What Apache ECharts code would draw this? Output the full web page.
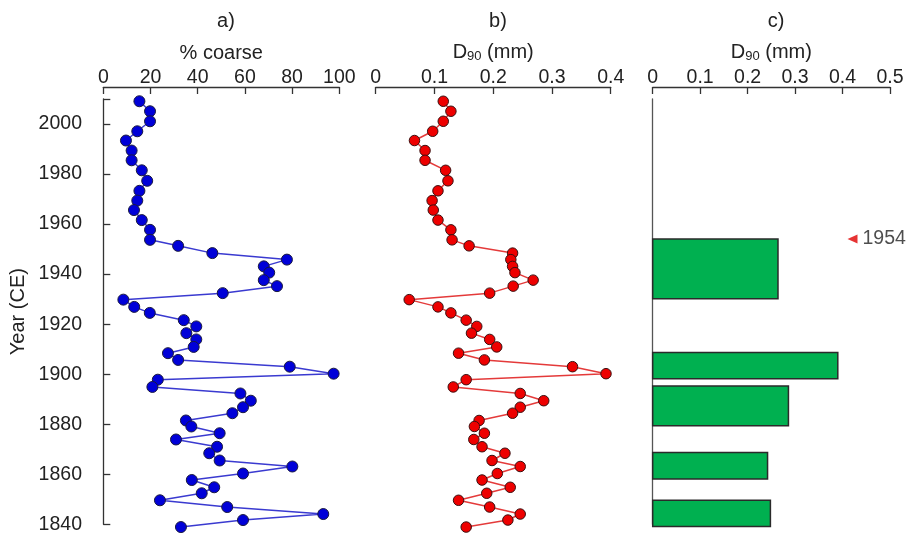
<!DOCTYPE html>
<html>
<head>
<meta charset="utf-8">
<script src="https://cdn.jsdelivr.net/npm/echarts@6/dist/echarts.min.js"></script>
<style>
  html, body { margin: 0; padding: 0; background: #fff; }
  #chart { width: 910px; height: 536px; }
</style>
</head>
<body>
<div id="chart"></div>
<script>
// sample years (CE), shared by panels a and b
const years = [2009.1, 2005.1, 2001.1, 1997.1, 1993.4, 1989.4, 1985.5, 1981.5, 1977.3, 1973.3,
  1969.4, 1965.6, 1961.6, 1957.7, 1953.7, 1951.3, 1948.4, 1945.8, 1943.1, 1940.6,
  1937.6, 1935.2, 1932.4, 1929.8, 1926.9, 1924.5, 1921.6, 1919.1, 1916.4, 1913.9,
  1910.9, 1908.4, 1905.7, 1903.0, 1900.2, 1897.8, 1894.9, 1892.3, 1889.4, 1886.8,
  1884.4, 1881.5, 1879.1, 1876.4, 1873.9, 1871.0, 1868.4, 1865.5, 1863.1, 1860.3,
  1857.7, 1854.8, 1852.4, 1849.6, 1846.9, 1844.1, 1841.7, 1838.9];

// a) % coarse
const coarse = [15.3, 19.8, 19.8, 14.4, 9.6, 12.0, 12.0, 16.3, 18.6, 15.3,
  14.4, 13.0, 16.3, 19.8, 19.8, 31.7, 46.2, 77.8, 68.0, 70.3,
  68.0, 73.6, 50.6, 8.5, 13.1, 19.7, 34.1, 39.4, 35.2, 39.4,
  38.3, 27.4, 31.7, 79.0, 97.6, 23.1, 20.8, 58.1, 62.5, 59.2,
  54.7, 35.0, 37.3, 49.3, 30.8, 48.2, 44.9, 49.3, 80.1, 59.2,
  37.5, 47.0, 41.7, 24.0, 52.5, 93.2, 59.2, 32.9];

// b) D90 (mm)
const d90 = [0.115, 0.128, 0.115, 0.097, 0.066, 0.084, 0.084, 0.119, 0.123, 0.106,
  0.096, 0.098, 0.106, 0.128, 0.130, 0.159, 0.233, 0.230, 0.233, 0.237,
  0.268, 0.234, 0.194, 0.057, 0.106, 0.128, 0.154, 0.172, 0.163, 0.194,
  0.206, 0.141, 0.185, 0.335, 0.392, 0.154, 0.132, 0.246, 0.286, 0.246,
  0.233, 0.176, 0.168, 0.185, 0.167, 0.181, 0.220, 0.198, 0.246, 0.207,
  0.181, 0.229, 0.189, 0.141, 0.194, 0.246, 0.225, 0.154];

// c) binned D90 (year ranges)
const binStart = [1930.2, 1898.2, 1879.4, 1858.1, 1839.1];
const binEnd = [1954.0, 1908.7, 1895.3, 1868.7, 1849.6];
const binD90 = [0.264, 0.390, 0.286, 0.242, 0.248];

// marker
const markYear = 1954;
const markX = 0.421;

const yearMin = 1840;
const yearMax = 2010;

const font = "Liberation Sans, Arial, sans-serif";
const axisColor = "#333";
const textColor = "#222";

const pair = (xs) => xs.map((v, i) => [v, years[i]]);

function topAxis(gridIndex, max, interval, name) {
  return {
    type: "value",
    gridIndex,
    position: "top",
    offset: 12,
    min: 0,
    max,
    interval,
    name,
    nameLocation: "middle",
    nameGap: 22,
    nameTextStyle: {
      fontFamily: font,
      fontSize: 20,
      color: textColor,
      rich: {
        sub: { fontSize: 13, fontFamily: font, color: textColor, padding: [8, 0, 0, 0] },
      },
    },
    axisLine: { show: true, lineStyle: { color: axisColor, width: 1.3 } },
    axisTick: { show: true, inside: true, length: 7, lineStyle: { color: axisColor, width: 1.3 } },
    axisLabel: {
      fontFamily: font,
      fontSize: 19.5,
      color: textColor,
      margin: -1,
      formatter: (v) => String(+v.toFixed(2)),
    },
    splitLine: { show: false },
  };
}

function yearAxis(gridIndex, show) {
  return {
    type: "value",
    gridIndex,
    min: yearMin,
    max: yearMax,
    interval: 20,
    show: true,
    offset: show ? 15.3 : 0,
    name: show ? "Year (CE)" : "",
    nameLocation: "middle",
    nameRotate: 90,
    nameGap: 60,
    nameTextStyle: { fontFamily: font, fontSize: 20, color: textColor },
    axisLine: { show: gridIndex !== 1, lineStyle: { color: gridIndex === 2 ? "#555" : axisColor, width: 1.3 } },
    axisTick: { show: show, inside: true, length: 7, lineStyle: { color: axisColor, width: 1.3 } },
    axisLabel: {
      show: show,
      fontFamily: font,
      fontSize: 19.5,
      color: textColor,
      margin: 6,
      formatter: (v) => (v % 20 === 0 ? String(v) : ""),
    },
    splitLine: { show: false },
  };
}

const titleStyle = { fontFamily: font, fontSize: 20, fontWeight: "normal", color: textColor };

const chart = echarts.init(document.getElementById("chart"));

const option = {
  backgroundColor: "#fff",
  animation: false,
  title: [
    { text: "a)", left: 221, top: 6, textAlign: "center", textStyle: titleStyle },
    { text: "b)", left: 493, top: 6, textAlign: "center", textStyle: titleStyle },
    { text: "c)", left: 771, top: 6, textAlign: "center", textStyle: titleStyle },
  ],
  grid: [
    { left: 103.3, width: 236, top: 99, bottom: 11.7 },
    { left: 375.7, width: 235, top: 99, bottom: 11.7 },
    { left: 652.7, width: 237.3, top: 99, bottom: 11.7 },
  ],
  xAxis: [
    topAxis(0, 100, 20, "% coarse"),
    topAxis(1, 0.4, 0.1, "D{sub|90} (mm)"),
    topAxis(2, 0.5, 0.1, "D{sub|90} (mm)"),
  ],
  yAxis: [yearAxis(0, true), yearAxis(1, false), yearAxis(2, false)],
  series: [
    {
      name: "% coarse",
      type: "line",
      xAxisIndex: 0,
      yAxisIndex: 0,
      data: pair(coarse),
      clip: false,
      symbol: "circle",
      symbolSize: 11,
      lineStyle: { color: "#3a3ad0", width: 1.5 },
      itemStyle: { color: "#0000d8", borderColor: "#1a1a40", borderWidth: 1 },
      z: 3,
    },
    {
      name: "D90",
      type: "line",
      xAxisIndex: 1,
      yAxisIndex: 1,
      data: pair(d90),
      clip: false,
      symbol: "circle",
      symbolSize: 10.5,
      lineStyle: { color: "#e43a3a", width: 1.5 },
      itemStyle: { color: "#ee0000", borderColor: "#3a1010", borderWidth: 1 },
      z: 3,
    },
    {
      name: "binned D90",
      type: "custom",
      xAxisIndex: 2,
      yAxisIndex: 2,
      clip: false,
      data: binD90.map((v, i) => [v, binStart[i], binEnd[i]]),
      renderItem: (params, api) => {
        const p0 = api.coord([0, api.value(2)]);
        const p1 = api.coord([api.value(0), api.value(1)]);
        return {
          type: "rect",
          shape: { x: p0[0], y: p0[1], width: p1[0] - p0[0], height: p1[1] - p0[1] },
          style: { fill: "#00b050", stroke: "#2a2a2a", lineWidth: 1.5 },
        };
      },
      z: 2,
    },
    {
      name: "1954",
      type: "scatter",
      xAxisIndex: 2,
      yAxisIndex: 2,
      data: [[markX, markYear]],
      symbol: "triangle",
      symbolRotate: 90,
      symbolSize: [9, 10],
      itemStyle: { color: "#e00000" },
      label: {
        show: true,
        position: "right",
        distance: 5,
        formatter: String(markYear),
        fontFamily: font,
        fontSize: 19.5,
        color: textColor,
      },
      z: 4,
    },
  ],
};

chart.setOption(option);
</script>
</body>
</html>
